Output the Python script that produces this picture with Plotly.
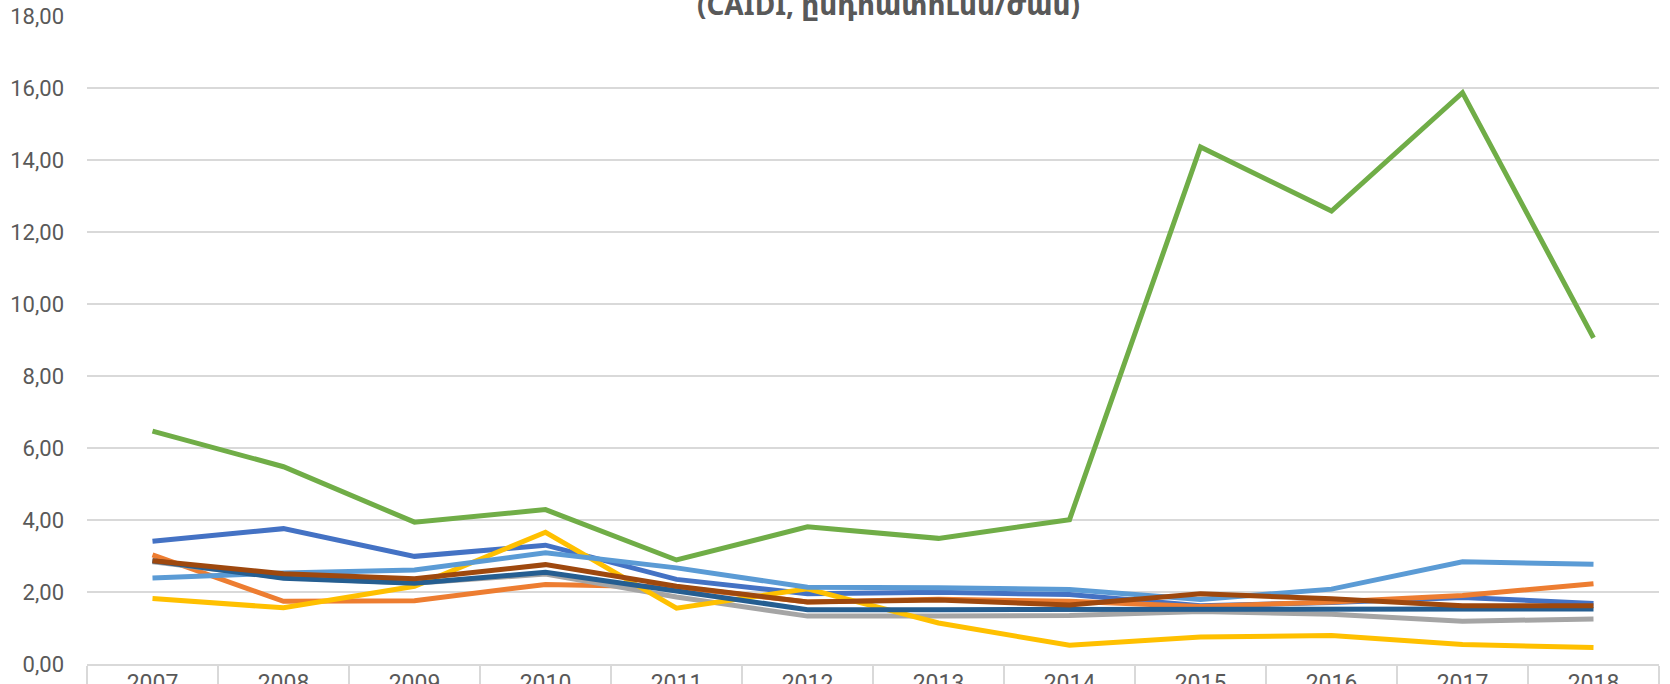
import plotly.graph_objects as go

years = ["2007", "2008", "2009", "2010", "2011", "2012", "2013", "2014", "2015", "2016", "2017", "2018"]

s_blue = [3.41, 3.76, 2.99, 3.30, 2.35, 1.95, 1.99, 1.93, 1.62, 1.71, 1.85, 1.68]
s_orange = [3.03, 1.74, 1.76, 2.21, 2.14, 1.72, 1.80, 1.74, 1.60, 1.72, 1.90, 2.23]
s_gray = [2.84, 2.40, 2.24, 2.50, 1.86, 1.33, 1.33, 1.35, 1.46, 1.38, 1.19, 1.25]
s_yellow = [1.82, 1.56, 2.16, 3.66, 1.55, 2.09, 1.14, 0.52, 0.75, 0.79, 0.54, 0.46]
s_lightblue = [2.39, 2.53, 2.61, 3.09, 2.67, 2.13, 2.12, 2.07, 1.79, 2.08, 2.84, 2.77]
s_green = [6.47, 5.48, 3.94, 4.29, 2.89, 3.81, 3.49, 4.01, 14.36, 12.58, 15.87, 9.06]
s_darkblue = [2.87, 2.38, 2.24, 2.55, 2.03, 1.51, 1.51, 1.51, 1.53, 1.51, 1.51, 1.53]
s_brown = [2.87, 2.51, 2.37, 2.76, 2.16, 1.72, 1.78, 1.64, 1.95, 1.81, 1.62, 1.62]

series = [
    (s_blue, "#4472C4"),
    (s_orange, "#ED7D31"),
    (s_gray, "#A5A5A5"),
    (s_yellow, "#FFC000"),
    (s_lightblue, "#5B9BD5"),
    (s_green, "#70AD47"),
    (s_darkblue, "#255E91"),
    (s_brown, "#9E480E"),
]

title_text = "(CAIDI, ընդհատումն/ժամ)"

fig = go.Figure()
for vals, col in series:
    fig.add_trace(go.Scatter(x=years, y=vals, mode="lines",
                             line=dict(color=col, width=5),
                             showlegend=False, hoverinfo="skip"))

fig.update_layout(
    width=1670, height=684,
    margin=dict(l=87, r=11, t=16, b=20, autoexpand=False),
    paper_bgcolor="white", plot_bgcolor="white",
    separators=", ",
    font=dict(family="Roboto, Open Sans, sans-serif", color="#595959", size=22),
    title=dict(text="<b>" + title_text + "</b>", x=0.532, xref="container", xanchor="center",
               y=0.992, yref="container", yanchor="middle",
               font=dict(family="Noto Sans, DejaVu Sans, sans-serif", size=28, color="#595959")),
    showlegend=False,
)
fig.update_xaxes(type="category", range=[-0.5, 11.5], showgrid=False, automargin=False,
                 showline=True, linecolor="#d9d9d9", linewidth=1.5,
                 ticks="outside", tickson="boundaries", ticklen=24, tickcolor="#d9d9d9", tickwidth=1.5,
                 ticklabelstandoff=-2, tickfont=dict(size=23, color="#595959"))
fig.update_yaxes(range=[0, 18], dtick=2, tick0=0, tickformat=".2f", automargin=False,
                 showgrid=True, gridcolor="#d9d9d9", gridwidth=1.5,
                 zeroline=False, showline=False, ticks="",
                 ticklabelstandoff=22, tickfont=dict(size=22, color="#595959"))

fig.write_html("out.html", config={"displayModeBar": False},
               post_script="document.body.style.margin='0';document.body.style.overflow='hidden';")
